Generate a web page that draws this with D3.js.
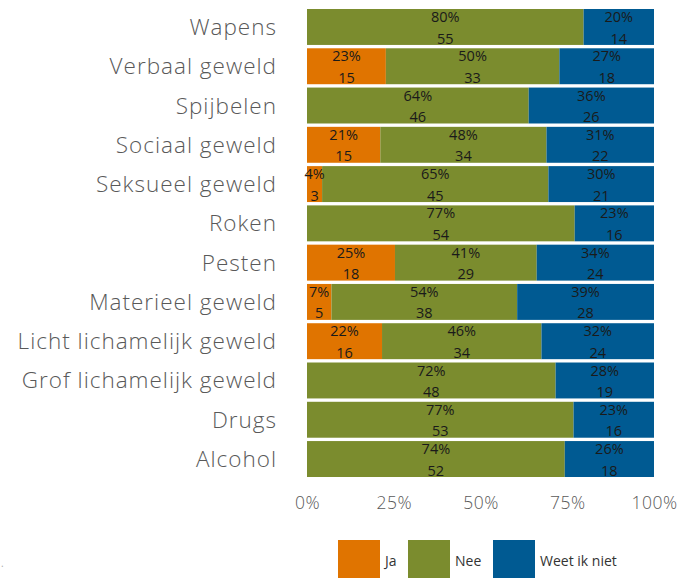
<!DOCTYPE html>
<html><head><meta charset="utf-8">
<script src="https://cdn.jsdelivr.net/npm/d3@7"></script>
<style>body{margin:0;background:#fff}svg{display:block}</style>
</head><body>
<svg id="c" width="691" height="578"></svg>
<script>
const categories = ["Wapens","Verbaal geweld","Spijbelen","Sociaal geweld","Seksueel geweld","Roken","Pesten","Materieel geweld","Licht lichamelijk geweld","Grof lichamelijk geweld","Drugs","Alcohol"];
const seriesNames = ["Ja","Nee","Weet ik niet"];
const jaCounts   = [0,15,0,15,3,0,18,5,16,0,0,0];
const neeCounts  = [55,33,46,34,45,54,29,38,34,48,53,52];
const weetCounts = [14,18,26,22,21,16,24,28,24,19,16,18];
const jaPct   = [0,23,0,21,4,0,25,7,22,0,0,0];
const neePct  = [80,50,64,48,65,77,41,54,46,72,77,74];
const weetPct = [20,27,36,31,30,23,34,39,32,28,23,26];
const tickLabels = ["0%","25%","50%","75%","100%"];
const tickValues = [0,0.25,0.5,0.75,1];
const colors = ["#E07400","#7B8C2E","#005A92"];

const counts = [jaCounts, neeCounts, weetCounts];
const pcts = [jaPct, neePct, weetPct];
const svg = d3.select("#c");
const font = "'Open Sans', Lato, sans-serif";

const x = d3.scaleLinear().domain([0,1]).range([307,654]);
const y = d3.scaleBand().domain(categories).range([9,477]).paddingInner(0.085).paddingOuter(0);

const rows = categories.map((c,i)=>{
  const total = jaCounts[i]+neeCounts[i]+weetCounts[i];
  let acc = 0;
  return counts.map((arr,s)=>{
    const v = arr[i]/total;
    const seg = {cat:c, s, x0:acc, x1:acc+v, n:arr[i], p:pcts[s][i]};
    acc += v;
    return seg;
  });
});
const segs = rows.flat().filter(d=>d.n>0);

svg.append("g").selectAll("rect").data(segs).join("rect")
  .attr("x", d=>x(d.x0)).attr("width", d=>x(d.x1)-x(d.x0))
  .attr("y", d=>y(d.cat)).attr("height", y.bandwidth())
  .attr("fill", d=>colors[d.s]);

const lab = svg.append("g").attr("font-family", font).attr("font-size", 14.5).attr("fill","#1a1a1a").attr("text-anchor","middle");
lab.selectAll("text.p").data(segs).join("text").attr("class","p")
  .attr("x", d=>(x(d.x0)+x(d.x1))/2).attr("y", d=>y(d.cat)+13)
  .text(d=>d.p+"%");
lab.selectAll("text.n").data(segs).join("text").attr("class","n")
  .attr("x", d=>(x(d.x0)+x(d.x1))/2).attr("y", d=>y(d.cat)+34.5)
  .text(d=>d.n);

// category axis labels
svg.append("g").attr("font-family", font).attr("font-weight",300).attr("font-size", 22.5).attr("letter-spacing", 1).attr("fill","#595959").attr("text-anchor","end")
  .selectAll("text").data(categories).join("text")
  .attr("x", 277).attr("y", d=>y(d)+y.bandwidth()/2+8)
  .text(d=>d);

// x axis
const xAxis = d3.axisBottom(x).tickValues(tickValues).tickFormat((d,i)=>tickLabels[i]).tickSize(0).tickPadding(0);
const gx = svg.append("g").attr("transform","translate(0,497)").call(xAxis);
gx.select(".domain").remove();
gx.selectAll("text").attr("font-family", font).attr("font-weight",300).attr("font-size", 17.5).attr("letter-spacing",0.5).attr("fill","#595959");

// legend
const legX = [338, 408, 493];
const lg = svg.append("g");
seriesNames.forEach((n,i)=>{
  lg.append("rect").attr("x", legX[i]).attr("y", 540).attr("width", 42).attr("height", 38).attr("fill", colors[i]);
  lg.append("text").attr("x", legX[i]+47).attr("y", 566).attr("font-family", font).attr("font-size", 14).attr("fill","#333").text(n);
});
svg.append("text").attr("x",1).attr("y",567).attr("font-family",font).attr("font-size",10).attr("fill","#aaa").text(".");
</script>
</body></html>
